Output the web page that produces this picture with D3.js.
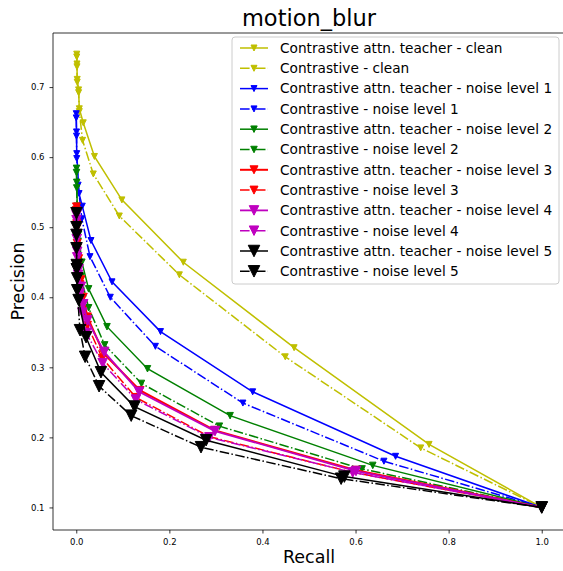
<!DOCTYPE html>
<html><head><meta charset="utf-8">
<script src="https://d3js.org/d3.v7.min.js"></script>
<style>body{margin:0;background:#fff}svg{display:block}text{font-family:"DejaVu Sans",sans-serif}</style>
</head><body>
<script>
// ---- data ----
const title = "motion_blur";
const xTicks = [0.0, 0.2, 0.4, 0.6, 0.8, 1.0];
const yTicks = [0.1, 0.2, 0.3, 0.4, 0.5, 0.6, 0.7];
const seriesNames = [
  "Contrastive attn. teacher - clean", "Contrastive - clean",
  "Contrastive attn. teacher - noise level 1", "Contrastive - noise level 1",
  "Contrastive attn. teacher - noise level 2", "Contrastive - noise level 2",
  "Contrastive attn. teacher - noise level 3", "Contrastive - noise level 3",
  "Contrastive attn. teacher - noise level 4", "Contrastive - noise level 4",
  "Contrastive attn. teacher - noise level 5", "Contrastive - noise level 5"];
const teacherClean = [[0.001,0.747],[0.0015,0.733],[0.002,0.711],[0.005,0.696],[0.0065,0.669],[0.015,0.649],[0.039,0.601],[0.098,0.539],[0.230,0.450],[0.468,0.328],[0.758,0.190],[1.0,0.1]];
const baseClean = [[0.001,0.743],[0.0015,0.729],[0.002,0.707],[0.005,0.692],[0.0065,0.665],[0.0135,0.624],[0.0366,0.576],[0.0925,0.516],[0.2215,0.432],[0.449,0.315],[0.740,0.185],[1.0,0.1]];
const teacherN1 = [[0.0,0.662],[0.0005,0.636],[0.001,0.605],[0.006,0.548],[0.0129,0.530],[0.0316,0.481],[0.0768,0.422],[0.181,0.351],[0.379,0.265],[0.686,0.173],[1.0,0.1]];
const baseN1 = [[0.0,0.656],[0.0005,0.630],[0.001,0.598],[0.004,0.560],[0.012,0.512],[0.0295,0.458],[0.0731,0.400],[0.170,0.330],[0.358,0.249],[0.661,0.166],[1.0,0.1]];
const teacherN2 = [[0.0005,0.584],[0.001,0.564],[0.002,0.53],[0.005,0.49],[0.012,0.45],[0.0265,0.412],[0.066,0.358],[0.153,0.298],[0.3305,0.231],[0.637,0.160],[1.0,0.1]];
const baseN2 = [[0.0005,0.578],[0.001,0.556],[0.002,0.52],[0.004,0.48],[0.010,0.43],[0.0265,0.385],[0.061,0.332],[0.140,0.277],[0.3075,0.216],[0.614,0.155],[1.0,0.1]];
const teacherN3 = [[0.0005,0.529],[0.001,0.505],[0.002,0.477],[0.005,0.455],[0.010,0.425],[0.015,0.40],[0.024,0.372],[0.0587,0.320],[0.137,0.267],[0.298,0.210],[0.601,0.153],[1.0,0.1]];
const baseN3 = [[0.0005,0.524],[0.001,0.498],[0.002,0.47],[0.004,0.447],[0.008,0.418],[0.013,0.39],[0.024,0.360],[0.056,0.313],[0.128,0.257],[0.286,0.201],[0.594,0.150],[1.0,0.1]];
const teacherN4 = [[0.0005,0.517],[0.001,0.49],[0.002,0.465],[0.005,0.44],[0.010,0.415],[0.015,0.39],[0.024,0.367],[0.060,0.322],[0.135,0.265],[0.298,0.209],[0.601,0.152],[1.0,0.1]];
const baseN4 = [[0.0005,0.51],[0.001,0.483],[0.002,0.457],[0.004,0.432],[0.008,0.405],[0.013,0.378],[0.0215,0.349],[0.0566,0.306],[0.128,0.254],[0.286,0.200],[0.594,0.150],[1.0,0.1]];
const teacherN5 = [[0.0005,0.52],[0.0005,0.489],[0.001,0.446],[0.002,0.427],[0.005,0.396],[0.021,0.343],[0.053,0.293],[0.125,0.244],[0.279,0.196],[0.576,0.144],[1.0,0.1]];
const baseN5 = [[0.0005,0.50],[0.0005,0.47],[0.001,0.44],[0.002,0.41],[0.008,0.353],[0.019,0.315],[0.049,0.273],[0.118,0.231],[0.268,0.186],[0.569,0.141],[1.0,0.1]];
const seriesData = [teacherClean, baseClean, teacherN1, baseN1, teacherN2, baseN2, teacherN3, baseN3, teacherN4, baseN4, teacherN5, baseN5];

// ---- styles ----
const colors = ["#bfbf00","#bfbf00","#0000ff","#0000ff","#008000","#008000","#ff0000","#ff0000","#bf00bf","#bf00bf","#000000","#000000"];
const markerSizes = [6,6,6,6,6.5,6.5,8,8,9.5,9.5,11.5,11.5];
const lineWidths = [1.5,1.5,1.5,1.5,1.5,1.5,2,1.5,1.8,1.5,1.5,1.5];

const W = 563, H = 571;
const m = {left:53, right:565, top:33, bottom:530};
const svg = d3.select("body").append("svg").attr("width",W).attr("height",H);
const x = d3.scaleLinear().domain([-0.05,1.05]).range([m.left,m.right]);
const y = d3.scaleLinear().domain([0.0678,0.7772]).range([m.bottom,m.top]);

svg.append("rect").attr("x",m.left).attr("y",m.top).attr("width",m.right-m.left).attr("height",m.bottom-m.top).attr("fill","#fff");

const gx = svg.append("g").attr("transform",`translate(0,${m.bottom})`)
  .call(d3.axisBottom(x).tickValues(xTicks).tickFormat(d3.format(".1f")).tickSize(3.5).tickPadding(5));
const gy = svg.append("g").attr("transform",`translate(${m.left},0)`)
  .call(d3.axisLeft(y).tickValues(yTicks).tickFormat(d3.format(".1f")).tickSize(3.5).tickPadding(5));
[gx,gy].forEach(g=>{
  g.select(".domain").remove();
  g.selectAll("text").attr("font-size",8.5).attr("fill","#000").style("font-family","DejaVu Sans");
  g.selectAll("line").attr("stroke","#000").attr("stroke-width",0.8);
});
// spines
svg.append("line").attr("x1",m.left).attr("x2",m.left).attr("y1",m.top).attr("y2",m.bottom).attr("stroke","#000").attr("stroke-width",0.8);
svg.append("line").attr("x1",m.left).attr("x2",m.right).attr("y1",m.bottom).attr("y2",m.bottom).attr("stroke","#000").attr("stroke-width",0.8);
svg.append("line").attr("x1",m.left).attr("x2",m.right).attr("y1",m.top).attr("y2",m.top).attr("stroke","#000").attr("stroke-width",0.8);

svg.append("text").attr("x",(m.left+m.right)/2).attr("y",26).attr("text-anchor","middle").attr("font-size",22.5).text(title);
svg.append("text").attr("x",(m.left+m.right)/2).attr("y",563).attr("text-anchor","middle").attr("font-size",17.5).text("Recall");
svg.append("text").attr("transform",`translate(24,${(m.top+m.bottom)/2}) rotate(-90)`).attr("text-anchor","middle").attr("font-size",17.5).text("Precision");

const dashFor = (i,lw)=> i%2===1 ? `${6.4*lw},${1.6*lw},${1*lw},${1.6*lw}` : null;
const tri = s => `M${-s/2},${-s/2}L${s/2},${-s/2}L0,${s/2}Z`;
const line = d3.line().x(d=>x(d[0])).y(d=>y(d[1]));

const plot = svg.append("g");
seriesData.forEach((data,i)=>{
  const g = plot.append("g");
  g.append("path").attr("d",line(data)).attr("fill","none").attr("stroke",colors[i])
    .attr("stroke-width",lineWidths[i]).attr("stroke-dasharray",dashFor(i,lineWidths[i]));
  g.selectAll("path.mk").data(data).join("path").attr("class","mk")
    .attr("d",tri(markerSizes[i])).attr("transform",d=>`translate(${x(d[0])},${y(d[1])})`)
    .attr("fill",colors[i]).attr("stroke",colors[i]).attr("stroke-width",1);
});

// legend
const lg = svg.append("g");
lg.append("rect").attr("x",232).attr("y",37).attr("width",327).attr("height",247).attr("rx",3)
  .attr("fill","#fff").attr("fill-opacity",0.8).attr("stroke","#ccc").attr("stroke-width",1);
seriesNames.forEach((name,i)=>{
  const cy = 48 + i*20.3;
  lg.append("line").attr("x1",240).attr("x2",268).attr("y1",cy).attr("y2",cy).attr("stroke",colors[i])
    .attr("stroke-width",lineWidths[i]).attr("stroke-dasharray",dashFor(i,lineWidths[i]));
  lg.append("path").attr("d",tri(markerSizes[i])).attr("transform",`translate(254,${cy})`).attr("fill",colors[i]).attr("stroke",colors[i]);
  lg.append("text").attr("x",280).attr("y",cy+4.8).attr("font-size",13.7).text(name);
});
</script>
</body></html>
